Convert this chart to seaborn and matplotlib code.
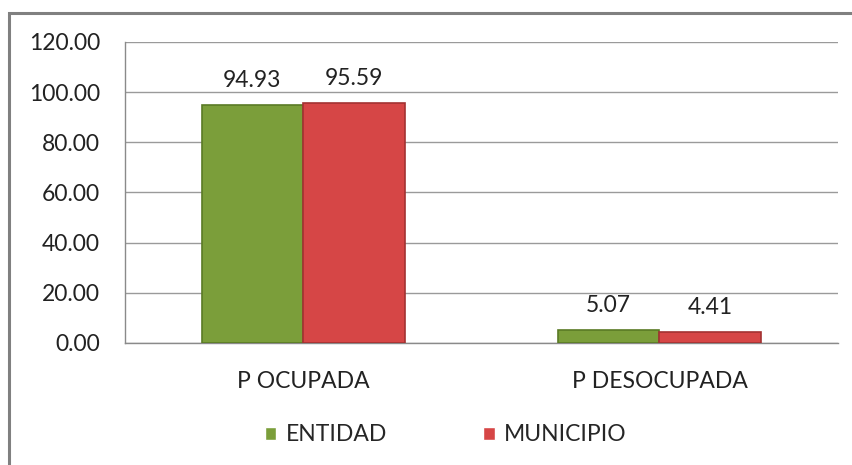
import pandas as pd
import numpy as np
import matplotlib.pyplot as plt
import seaborn as sns
from matplotlib.patches import Rectangle

categorias = ['P OCUPADA', 'P DESOCUPADA']
entidad = [94.93, 5.07]
municipio = [95.59, 4.41]
series = ['ENTIDAD', 'MUNICIPIO']
colores = ['#7B9E3A', '#D64646']
bordes = ['#5A7A25', '#A33232']

df = pd.DataFrame({
    'cat': categorias * 2,
    'serie': [series[0]] * 2 + [series[1]] * 2,
    'valor': entidad + municipio,
})

sns.set_style('white')
plt.rcParams['font.family'] = ['Lato', 'DejaVu Sans']
fs = 16.5

fig = plt.figure(figsize=(8.53, 4.65), dpi=100)
ax = fig.add_axes([0.1465, 0.2624, 0.8355, 0.6473])

sns.barplot(data=df, x='cat', y='valor', hue='serie', palette=colores,
            width=0.57, ax=ax, zorder=3, saturation=1)

for cont, borde in zip(ax.containers, bordes):
    for p in cont:
        p.set_edgecolor(borde)
        p.set_linewidth(1.2)
    ax.bar_label(cont, fmt='%.2f', padding=10, fontsize=fs, color='#222222')

ax.set_ylim(0, 120)
ax.set_yticks(np.arange(0, 121, 20))
ax.set_yticklabels([f'{v:.2f}' for v in np.arange(0, 121, 20)], fontsize=fs, color='#222222')
ax.set_xlim(-0.5, 1.5)
ax.set_xticks([0, 1])
ax.set_xticklabels(categorias, fontsize=fs, color='#222222')
ax.set_xticks([0.5, 1.5], minor=True)
ax.tick_params(axis='x', which='major', length=0, pad=20)
ax.tick_params(axis='x', which='minor', length=7, color='#8a8a8a', direction='out')
ax.tick_params(axis='y', length=8, color='#8a8a8a', direction='out', pad=10)
ax.set_xlabel('')
ax.set_ylabel('')
ax.grid(axis='y', color='#9a9a9a', linewidth=1, zorder=0)
ax.set_axisbelow(True)
for s in ['top', 'right']:
    ax.spines[s].set_visible(False)
for s in ['left', 'bottom']:
    ax.spines[s].set_color('#8a8a8a')
    ax.spines[s].set_linewidth(1)

ax.legend(loc='center', bbox_to_anchor=(0.45, -0.305), ncol=2, frameon=False,
          fontsize=fs, handlelength=0.5, handleheight=0.5, handletextpad=0.4,
          columnspacing=4.2)

fig.patches.append(Rectangle((9 / 853, -0.05), 1.0, 1 - 13 / 465 + 0.05,
                             transform=fig.transFigure, fill=False,
                             edgecolor='#808080', linewidth=2.2))

fig.savefig('out.png', dpi=100)
